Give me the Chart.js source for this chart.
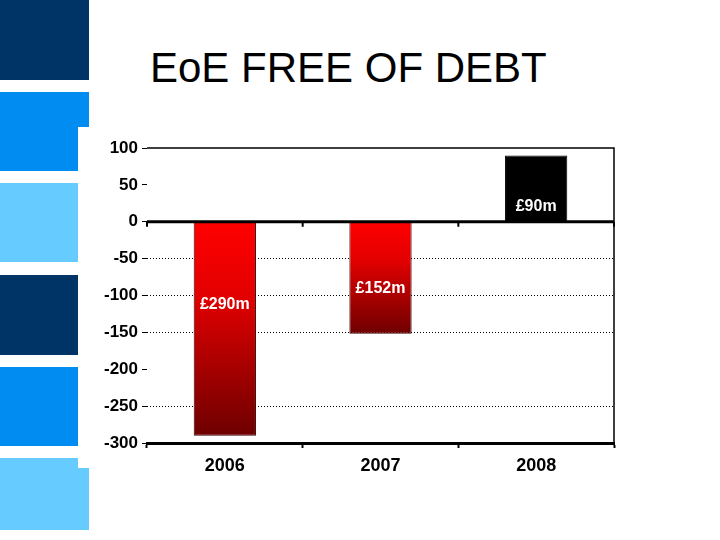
<!DOCTYPE html>
<html lang="en">
<head>
    <meta charset="UTF-8">
    <title>EoE FREE OF DEBT</title>
    <script src="https://cdn.jsdelivr.net/npm/chart.js"></script>
    <style>
        body { margin: 0; width: 720px; height: 540px; background: #fff; position: relative; overflow: hidden; font-family: "Liberation Sans", Arial, sans-serif; }
        .blk { position: absolute; left: 0; }
        .navy { background: #003366; }
        .blue { background: #008cf0; }
        .light { background: #66ccff; }
        h1 { position: absolute; left: 150px; top: 43px; margin: 0; font-weight: normal; font-size: 42px; line-height: 50px; color: #000; }
        #wrap { position: absolute; left: 0; top: 0; width: 720px; height: 540px; }
    </style>
</head>
<body>
    <!-- side decoration -->
    <div class="blk navy" style="top:0;width:89px;height:80px"></div>
    <div class="blk blue" style="top:92px;width:89px;height:35px"></div>
    <div class="blk blue" style="top:126px;width:78px;height:45px"></div>
    <div class="blk light" style="top:183px;width:78px;height:79px"></div>
    <div class="blk navy" style="top:275px;width:78px;height:80px"></div>
    <div class="blk blue" style="top:367px;width:78px;height:79px"></div>
    <div class="blk light" style="top:458px;width:78px;height:12px"></div>
    <div class="blk light" style="top:468px;width:89px;height:62px"></div>

    <h1>EoE FREE OF DEBT</h1>

    <div id="wrap"><canvas id="debt" width="720" height="540"></canvas></div>

    <script>
        // values (millions of pounds)
        const years = ['2006', '2007', '2008'];
        const debt = [-290, -152, 90];
        const debtLabels = ['£290m', '£152m', '£90m'];
        const labelAt = [-113, -90, 20]; // where the text sits, in axis units
        const yTicks = [100, 50, 0, -50, -100, -150, -200, -250, -300];
        const dottedAt = [-50, -100, -150, -250];

        function barFill(c) {
            const chart = c.chart;
            const ys = chart.scales.y;
            if (!ys || !chart.chartArea) return '#ff0000';
            const v = c.raw;
            if (v >= 0) return '#000000';
            const g = chart.ctx.createLinearGradient(0, ys.getPixelForValue(0), 0, ys.getPixelForValue(v));
            g.addColorStop(0, '#ff0000');
            g.addColorStop(0.35, '#e20000');
            g.addColorStop(1, '#6e0000');
            return g;
        }

        // frame, zero line and the £ labels
        const extras = {
            id: 'extras',
            afterDatasetsDraw(chart) {
                const ctx = chart.ctx, a = chart.chartArea, ys = chart.scales.y, xs = chart.scales.x;
                ctx.save();
                ctx.strokeStyle = '#000';
                ctx.lineWidth = 1.5;
                ctx.beginPath();
                ctx.moveTo(a.left, ys.getPixelForValue(100));
                ctx.lineTo(a.right, ys.getPixelForValue(100));
                ctx.lineTo(a.right, a.bottom);
                ctx.stroke();

                const y0 = ys.getPixelForValue(0);
                ctx.lineWidth = 3;
                ctx.beginPath();
                ctx.moveTo(a.left, y0);
                ctx.lineTo(a.right, y0);
                ctx.stroke();
                ctx.lineWidth = 2;
                const step = (a.right - a.left) / years.length;
                for (let i = 0; i <= years.length; i++) {
                    const x = a.left + i * step;
                    ctx.beginPath();
                    ctx.moveTo(x, y0);
                    ctx.lineTo(x, y0 + 5);
                    ctx.stroke();
                }

                ctx.fillStyle = '#fff';
                ctx.font = 'bold 16px "Liberation Sans", Arial, sans-serif';
                ctx.textAlign = 'center';
                ctx.textBaseline = 'middle';
                debtLabels.forEach((t, i) => {
                    ctx.fillText(t, xs.getPixelForValue(i), ys.getPixelForValue(labelAt[i]));
                });
                ctx.restore();
            }
        };

        new Chart(document.getElementById('debt'), {
            type: 'bar',
            data: {
                labels: years,
                datasets: [{
                    data: debt,
                    backgroundColor: barFill,
                    borderColor: c => c.raw >= 0 ? '#000' : '#3a0000',
                    borderWidth: 1,
                    barPercentage: 0.4,
                    categoryPercentage: 1.0
                }]
            },
            options: {
                responsive: false,
                animation: false,
                layout: { padding: { left: 90, right: 106, top: 148, bottom: 58 } },
                plugins: { legend: { display: false }, tooltip: { enabled: false } },
                scales: {
                    x: {
                        afterFit: s => { s.height = 39; },
                        grid: { offset: true, drawOnChartArea: false, drawTicks: true, tickLength: 5, tickWidth: 2, tickColor: '#000' },
                        border: { display: true, color: '#000', width: 3 },
                        ticks: { color: '#000', padding: 7, font: { family: '"Liberation Sans", Arial, sans-serif', size: 18, weight: 'bold' } }
                    },
                    y: {
                        min: -300,
                        max: 100,
                        afterFit: s => { s.width = 57; },
                        afterBuildTicks: s => { s.ticks = yTicks.map(v => ({ value: v })); },
                        grid: {
                            color: c => dottedAt.includes(c.tick.value) ? '#000' : 'rgba(0,0,0,0)',
                            lineWidth: 1,
                            drawTicks: true,
                            tickLength: 5,
                            tickColor: '#000',
                            tickWidth: 1
                        },
                        border: { display: false, dash: [1, 2] },
                        ticks: { color: '#000', padding: 4, font: { family: '"Liberation Sans", Arial, sans-serif', size: 17, weight: 'bold' } }
                    }
                }
            },
            plugins: [extras]
        });
    </script>
</body>
</html>
